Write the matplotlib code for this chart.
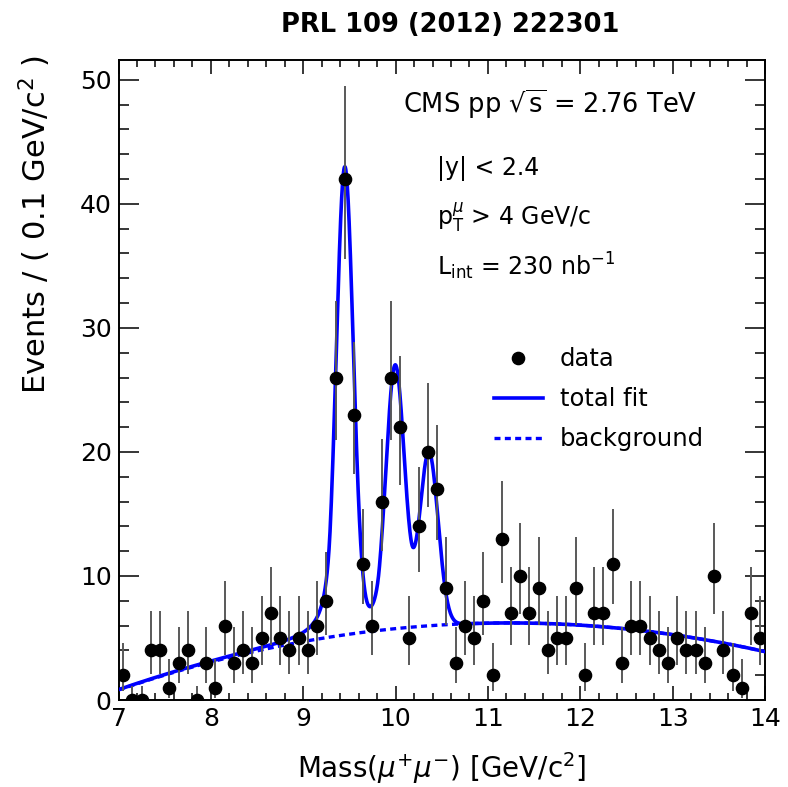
import matplotlib
matplotlib.use("Agg")
import matplotlib.pyplot as plt
import numpy as np
from matplotlib.lines import Line2D
from matplotlib.ticker import MultipleLocator

plt.rcParams["font.family"] = ["DejaVu Sans"]
plt.rcParams["mathtext.fontset"] = "dejavusans"

# --- data: dimuon counts per 0.1 GeV/c^2 bin, 7.0 - 14.0 ---
BIN_LO = 7.0
BIN_W = 0.1
counts = [
    2, 0, 0, 4, 4, 1, 3, 4, 0, 3,
    1, 6, 3, 4, 3, 5, 7, 5, 4, 5,
    4, 6, 8, 26, 42, 23, 11, 6, 16, 26,
    22, 5, 14, 20, 17, 9, 3, 6, 5, 8,
    2, 13, 7, 10, 7, 9, 4, 5, 5, 9,
    2, 7, 7, 11, 3, 6, 6, 5, 4, 3,
    5, 4, 4, 3, 10, 4, 2, 1, 7, 5,
]

# --- fit model ---
bkg_m0 = 11.0
bkg_c0, bkg_c1, bkg_c2 = 6.2, 0.14, -0.302
peak_mass = [9.45, 9.995, 10.36]
peak_sigma = [0.092, 0.10, 0.10]
peak_amp = [37.4, 20.8, 14.0]
cb_alpha, cb_n = 1.7, 2.0


def background(m):
    d = m - bkg_m0
    return bkg_c0 + bkg_c1 * d + bkg_c2 * d ** 2


def crystal_ball(m, m0, sigma):
    t = (m - m0) / sigma
    a = (cb_n / cb_alpha) ** cb_n * np.exp(-cb_alpha ** 2 / 2)
    b = cb_n / cb_alpha - cb_alpha
    out = np.exp(-0.5 * t ** 2)
    tail = t < -cb_alpha
    out[tail] = a * (b - t[tail]) ** (-cb_n)
    return out


def poisson_interval(n):
    # Garwood 68% interval (Wilson-Hilferty), RooFit style for n = 0
    n = np.asarray(n, float)
    k_up = 2 * n + 2
    up = 0.5 * k_up * (1 - 2 / (9 * k_up) + np.sqrt(2 / (9 * k_up))) ** 3
    k_lo = np.where(n > 0, 2 * n, 1.0)
    lo = 0.5 * k_lo * (1 - 2 / (9 * k_lo) - np.sqrt(2 / (9 * k_lo))) ** 3
    lo = np.where(n > 0, lo, 0.0)
    up = np.where(n > 0, up, 1.148)
    return lo, up


y = np.array(counts, float)
x = BIN_LO + BIN_W * (np.arange(len(counts)) + 0.5)
lo, up = poisson_interval(y)

m = np.linspace(7.0, 14.0, 2000)
bkg = background(m)
total = bkg.copy()
for m0, s, a in zip(peak_mass, peak_sigma, peak_amp):
    total += a * crystal_ball(m, m0, s)

fig = plt.figure(figsize=(7.88, 7.87), dpi=100)
ax = fig.add_axes([0.1504, 0.1105, 0.8204, 0.8133])

blue = "#0000ff"
ax.plot(m, bkg, color=blue, lw=2.4, ls=(0, (1.8, 1.3)), zorder=2)
ax.plot(m, total, color=blue, lw=2.6, zorder=3)
ax.vlines(x, lo, up, color="0.35", lw=1.4, zorder=4)
ax.plot(x, y, "o", color="black", ms=8.8, zorder=5)

ax.set_xlim(7, 14)
ax.set_ylim(0, 51.6)
ax.xaxis.set_major_locator(MultipleLocator(1))
ax.xaxis.set_minor_locator(MultipleLocator(0.2))
ax.yaxis.set_major_locator(MultipleLocator(10))
ax.yaxis.set_minor_locator(MultipleLocator(2))
ax.tick_params(which="both", direction="in", top=True, right=True,
               labelsize=18, width=1.1)
ax.tick_params(axis="x", which="major", length=10, pad=5)
ax.tick_params(axis="x", which="minor", length=5)
ax.tick_params(axis="y", which="major", length=14.5, pad=5)
ax.tick_params(axis="y", which="minor", length=7.2)
for sp in ax.spines.values():
    sp.set_linewidth(1.4)

# annotations
ax.text(0.44, 0.917, r"CMS pp $\sqrt{\mathrm{s}}$ = 2.76 TeV",
        transform=ax.transAxes, fontsize=18.5, va="baseline")
ax.text(0.493, 0.820, "|y| < 2.4", transform=ax.transAxes, fontsize=17,
        va="baseline")
ax.text(0.493, 0.742, r"p$_{\mathrm{T}}^{\mu}$ > 4 GeV/c",
        transform=ax.transAxes, fontsize=17, va="baseline")
ax.text(0.493, 0.664, r"L$_{\mathrm{int}}$ = 230 nb$^{\mathrm{-1}}$",
        transform=ax.transAxes, fontsize=17, va="baseline")

handles = [
    Line2D([], [], ls="none", marker="o", color="black", ms=8.8),
    Line2D([], [], color=blue, lw=2.6),
    Line2D([], [], color=blue, lw=2.4, ls=(0, (1.8, 1.3))),
]
ax.legend(handles, ["data", "total fit", "background"], loc="upper left",
          bbox_to_anchor=(0.581, 0.551), frameon=False, fontsize=17.5,
          borderpad=0, borderaxespad=0, handlelength=2.0,
          handletextpad=0.7, labelspacing=0.66)

fig.text(0.044, 0.930, r"Events / ( 0.1 GeV/c$^{2}$ )", rotation=90,
         ha="center", va="top", fontsize=22)
fig.text(0.56, 0.024, r"Mass($\mu^{+}\mu^{-}$) [GeV/c$^{2}$]",
         ha="center", va="center", fontsize=20)
fig.text(0.571, 0.968, "PRL 109 (2012) 222301", ha="center", va="center",
         fontsize=18.5, fontweight="bold")

fig.savefig("out.png", dpi=100)
